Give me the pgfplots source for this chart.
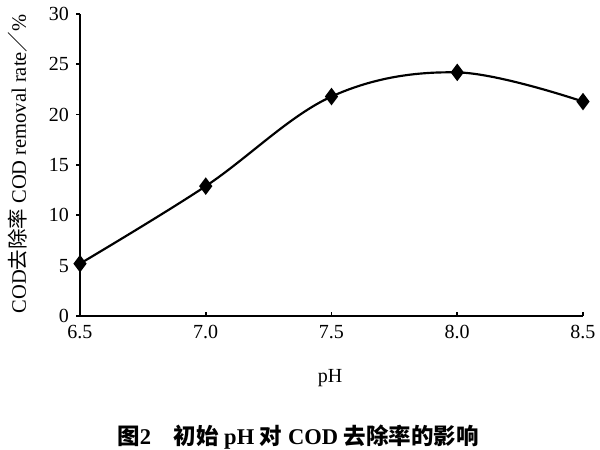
\documentclass[border=0pt]{standalone}
\usepackage{pgfplots}
\pgfplotsset{compat=1.18}
\usepackage{fontspec}
\setmainfont{Liberation Serif}
\newfontfamily\cjk{Noto Sans CJK SC}
\begin{document}
\begin{tikzpicture}[x=0.6pt,y=0.6pt]
\useasboundingbox (0,0) rectangle (600,450);
\begin{axis}[
  at={(48pt,80.4pt)}, anchor=south west,
  scale only axis, width=301.8pt, height=181.2pt,
  xmin=6.5, xmax=8.5, ymin=0, ymax=30,
  axis x line=bottom, axis y line=left,
  axis line style={-, line width=1.1pt},
  xtick={6.5,7.0,7.5,8.0,8.5},
  ytick={0,5,10,15,20,25,30},
  x tick label style={/pgf/number format/.cd, fixed, fixed zerofill, precision=1, assume math mode=true},
  y tick label style={/pgf/number format/assume math mode=true},
  xtick style={draw=black, line width=1pt},
  ytick style={draw=black, line width=1pt},
  major tick length=2.2pt,
  xtick align=inside, ytick align=outside,
  tick label style={font=\fontsize{12}{14}\selectfont},
  xticklabel shift=2pt, yticklabel shift=1pt,
  clip=false,
]
\addplot[black, line width=1.3pt, smooth, tension=0.6, mark=diamond*, mark size=4.2pt, mark options={solid, fill=black}]
  coordinates {(6.5,5.2) (7.0,12.9) (7.5,21.8) (8.0,24.2) (8.5,21.3)};
\end{axis}
\node[rotate=90, font=\fontsize{12.3}{14}\selectfont] at (18,286) {COD{\cjk 去除率} COD removal rate{\cjk ／}\%};
\node[font=\fontsize{12}{14}\selectfont] at (330,72) {pH};
\node[font=\fontsize{13.5}{15}\selectfont\bfseries] at (298,13) {{\cjk\bfseries 图}2\quad{\cjk\bfseries 初始} pH {\cjk\bfseries 对} COD {\cjk\bfseries 去除率的影响}};
\end{tikzpicture}
\end{document}
